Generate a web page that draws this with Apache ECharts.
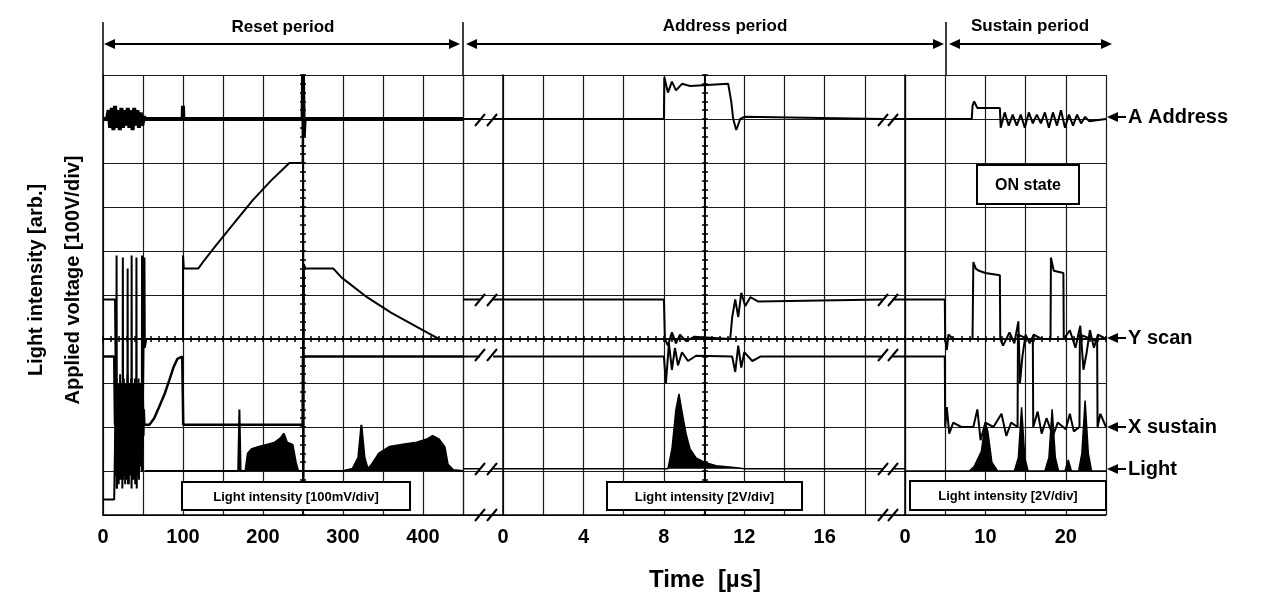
<!DOCTYPE html>
<html>
<head>
<meta charset="utf-8">
<script src="https://cdn.jsdelivr.net/npm/echarts@6/dist/echarts.min.js"></script>
<style>
  html, body { margin: 0; background: #fff; }
  #chart { width: 1269px; height: 609px; }
</style>
</head>
<body>
<div id="chart"></div>
<script>
// tick labels shown under each period
const resetTicks = [0, 100, 200, 300, 400];
const addressTicks = [0, 4, 8, 12, 16];
const sustainTicks = [0, 10, 20];

// traces: [time in us, level in screen divisions (0 = bottom, 10 = top)]
// reset period
const resetA = [[0,9],[5,9],[7,9.2],[9,8.8],[11,9.25],[13,8.75],[15,9.3],[17,8.8],[19,9.2],[21,8.75],[23,9.25],[25,8.8],[27,9.2],[29,8.85],[31,9.25],[33,8.8],[35,9.2],[37,8.75],[39,9.25],[41,8.85],[43,9.2],[45,8.8],[47,9.15],[49,8.85],[51,9.05],[53,9],[99.5,9],[100,9.3],[100.5,9],[249.5,9],[250,10],[251,8.6],[252,9],[450,9]];
const resetY = [[0,4.9],[15,4.9],[16.5,2],[17,5.9],[17.4,0.6],[17.8,2],[24.5,2],[24.8,5.85],[25.2,0.8],[25.6,2],[30.5,2],[30.8,5.6],[31.2,0.7],[31.6,2],[35.5,2],[35.8,5.9],[36.2,0.9],[36.6,2],[41.5,2],[41.8,5.85],[42.2,0.6],[42.6,2],[48.5,2],[48.8,5.9],[49.2,1.0],[49.6,2],[51.5,2],[51.8,5.85],[52.3,3.8],[54,4.0],[100,4.0],[100,5.9],[101,5.6],[119,5.6],[125,5.75],[140,6.1],[160,6.55],[187,7.15],[210,7.6],[233,8.0],[249.5,8.0],[250,10],[250.6,0.2],[251.2,5.7],[253,5.6],[288,5.6],[298,5.4],[330,4.95],[360,4.6],[390,4.3],[410,4.1],[420,4.0],[450,4.0]];
const resetX = [[0,3.6],[14,3.6],[15,2.05],[58,2.05],[64,2.2],[70,2.45],[77,2.75],[83,3.07],[88,3.35],[93,3.55],[99,3.6],[100,3.6],[100.3,2.05],[249.5,2.05],[250,3.6],[450,3.6]];
const resetBurst = [[0,0.35],[14,0.35],[15,1.6],[15.6,2.9],[16.2,0.9],[16.8,3.1],[17.3,0.6],[17.9,2.7],[18.5,1.2],[19.1,3.0],[19.6,0.7],[20.2,2.8],[20.8,1.0],[21.4,3.2],[21.9,0.8],[22.5,2.6],[23.1,1.3],[23.7,3.0],[24.2,0.6],[24.8,2.9],[25.4,1.1],[26,3.1],[26.5,0.9],[27.1,2.7],[27.7,0.7],[28.3,3.0],[28.8,1.2],[29.4,2.8],[30,0.8],[30.6,3.2],[31.1,1.0],[31.7,2.6],[32.3,0.7],[32.9,3.0],[33.4,1.3],[34,2.9],[34.6,0.9],[35.2,3.1],[35.7,0.6],[36.3,2.8],[36.9,1.1],[37.5,3.0],[38,0.8],[38.6,2.7],[39.2,1.2],[39.8,3.1],[40.3,0.7],[40.9,2.9],[41.5,1.0],[42.1,3.0],[42.6,0.9],[43.2,2.8],[43.8,1.3],[44.4,3.1],[44.9,0.8],[45.5,2.6],[46.1,1.1],[46.7,3.0],[47.2,1.4],[47.8,2.8],[48.4,1.0],[49,2.9],[49.5,1.5],[50.1,2.6],[50.7,1.8],[51.3,2.4],[52,2.05]];
const resetLight = [[52,1.0],[169,1.0],[170.5,2.4],[172,1.0],[178,1.0],[181,1.4],[186,1.5],[195,1.55],[205,1.6],[215,1.65],[222,1.75],[226,1.85],[230,1.65],[237,1.6],[241,1.2],[244,1.0],[250,1.0],[300,1.0],[312,1.05],[319,1.3],[323,2.05],[327,1.3],[331,1.05],[336,1.15],[345,1.4],[358,1.55],[375,1.6],[392,1.65],[405,1.72],[412,1.8],[420,1.72],[427,1.55],[431,1.15],[438,1.02],[450,1.0]];

// address period ('-' leaves the gap at the break marks)
const addrA = [[-2,9],[-1.15,9],[-1.1,'-'],[-0.5,9],[8,9],[8.02,9.95],[8.2,9.6],[8.4,9.85],[8.6,9.65],[8.9,9.8],[9.3,9.75],[11.2,9.8],[11.35,9.4],[11.45,9.0],[11.6,8.75],[11.8,9.0],[12,9.05],[18.9,9],[19,'-'],[19.37,9],[20,9]];
const addrY = [[-2,4.9],[-1.15,4.9],[-1.1,'-'],[-0.5,4.9],[8,4.9],[8.05,4.0],[8.2,3.85],[8.4,4.15],[8.6,3.9],[8.8,4.1],[9.1,3.95],[9.5,4.05],[11.3,4.0],[11.4,4.5],[11.55,4.9],[11.7,4.5],[11.85,5.05],[12.05,4.75],[12.3,4.95],[12.7,4.85],[18.9,4.9],[19,'-'],[19.37,4.9],[20,4.9]];
const addrX = [[-2,3.6],[-1.15,3.6],[-1.1,'-'],[-0.5,3.6],[8,3.6],[8.1,3.0],[8.25,3.9],[8.4,3.3],[8.55,3.8],[8.7,3.4],[8.9,3.7],[9.2,3.5],[9.6,3.62],[11.4,3.6],[11.55,3.25],[11.7,3.85],[11.85,3.35],[12,3.7],[12.4,3.5],[12.8,3.6],[18.9,3.6],[19,'-'],[19.37,3.6],[20,3.6]];
const addrLight = [[-2,1.05],[-1.15,1.05],[-1.1,'-'],[-0.5,1.05],[8.2,1.05],[8.4,1.5],[8.6,2.4],[8.75,2.75],[8.9,2.35],[9.1,1.85],[9.3,1.5],[9.6,1.3],[10,1.2],[10.6,1.12],[11.5,1.08],[12,1.05],[18.9,1.05],[19,'-'],[19.37,1.05],[20,1.05]];

// sustain period
const susA = [[0,9],[8.3,9],[8.4,9.3],[8.6,9.4],[9,9.25],[11.8,9.25],[11.9,8.8],[12.4,9.15],[12.9,8.85],[13.4,9.1],[13.9,8.85],[14.4,9.1],[14.9,8.8],[15.4,9.15],[15.9,8.9],[16.4,9.1],[16.9,8.9],[17.4,9.15],[17.9,8.8],[18.4,9.15],[18.9,8.85],[19.4,9.2],[19.9,8.8],[20.4,9.1],[20.9,8.85],[21.4,9.1],[21.9,8.9],[22.4,9.05],[22.9,8.95],[25,9]];
const susY = [[0,4.9],[4.95,4.9],[5,4.0],[5.2,3.75],[5.4,4.1],[6,4.0],[8.4,4.0],[8.5,5.75],[8.8,5.6],[9.2,5.55],[10,5.5],[11.8,5.45],[11.85,4.0],[12.2,3.85],[13,4.15],[13.6,3.9],[14.1,4.4],[14.3,3.0],[14.6,3.6],[15,4.1],[15.5,3.9],[16,4.1],[17,4.0],[18.1,4.0],[18.15,5.85],[18.5,5.55],[19.7,5.5],[19.75,4.0],[20.5,4.2],[21.2,3.8],[21.8,4.3],[22.2,3.3],[22.6,3.7],[23,4.2],[23.5,3.8],[24,4.1],[25,4.0]];
const susX = [[0,3.6],[4.95,3.6],[5,2.0],[5.2,2.45],[5.5,1.85],[6,2.1],[7,2.0],[8.5,2.0],[9,2.4],[9.4,1.7],[10,2.1],[11,2.0],[12,2.3],[12.6,1.8],[13.2,2.1],[14,2.0],[14.05,4.1],[15.9,3.95],[15.95,2.0],[16.5,2.35],[17,1.85],[17.6,2.2],[18.4,1.8],[19,2.1],[20,1.95],[20.5,2.3],[21,1.9],[21.7,2.0],[21.75,4.1],[23.9,3.95],[23.95,2.0],[24.3,2.3],[25,2.0]];
const susLight = [[0,1.0],[8,1.0],[8.6,1.1],[9.5,1.45],[10,2.1],[10.3,1.9],[10.8,1.2],[11.5,1.0],[13.6,1.0],[14.1,1.3],[14.5,2.45],[14.9,1.3],[15.3,1.0],[17.4,1.0],[17.9,1.3],[18.3,2.4],[18.7,1.3],[19.1,1.0],[19.9,1.0],[20.3,1.25],[20.7,1.0],[21.6,1.0],[22.0,1.4],[22.4,2.6],[22.8,1.4],[23.2,1.0],[25,1.0]];

const ink = '#000';
const fontFamily = '"Liberation Sans", Arial, sans-serif';

const myChart = echarts.init(document.getElementById('chart'));

const grids = [
  { left: 103, top: 75, width: 360, height: 440 },
  { left: 463, top: 75, width: 442, height: 440 },
  { left: 905, top: 75, width: 201, height: 440 },
];

function timeAxis(gi, min, max, step, ticks) {
  return {
    type: 'value', gridIndex: gi, min: min, max: max, interval: step,
    axisLine: { show: true, lineStyle: { color: ink, width: 1.5 } },
    axisTick: { show: false },
    splitLine: { show: true, lineStyle: { color: '#1a1a1a', width: 1.2 } },
    axisLabel: {
      margin: 12, color: ink, fontSize: 20, fontWeight: 'bold', fontFamily: fontFamily,
      showMinLabel: true, showMaxLabel: true,
      formatter: (v) => (ticks.indexOf(v) >= 0 ? String(v) : ''),
    },
  };
}

function levelAxis(gi) {
  return {
    type: 'value', gridIndex: gi, min: 0, max: 10, interval: 1,
    axisLine: { show: true, lineStyle: { color: ink, width: 1.5 } },
    axisTick: { show: false },
    axisLabel: { show: false },
    splitLine: { show: true, lineStyle: { color: '#1a1a1a', width: 1.2 } },
  };
}

// oscilloscope centre graticule: an axis line with small ticks on both sides
function centreAxis(kind, gi, min, max, step, offset, inside) {
  return {
    type: 'value', gridIndex: gi, min: min, max: max, interval: step,
    position: kind === 'x' ? 'bottom' : 'left', offset: offset,
    axisLine: { show: true, onZero: false, lineStyle: { color: ink, width: 1.5 } },
    axisTick: { show: true, inside: inside, length: 3, lineStyle: { color: ink, width: 1.5 } },
    axisLabel: { show: false },
    splitLine: { show: false },
  };
}

function trace(data, gi, width, fillTo) {
  const s = {
    type: 'line', xAxisIndex: gi, yAxisIndex: gi, data: data,
    symbol: 'none', silent: true, animation: false, connectNulls: false,
    lineStyle: { color: ink, width: width || 2 },
  };
  if (fillTo !== undefined) {
    s.areaStyle = { color: ink, opacity: 1, origin: fillTo };
  }
  return s;
}

// graphic helpers for the annotations
function label(x, y, text, size, align, extra) {
  return Object.assign({
    type: 'text', x: x, y: y, z: 120,
    style: {
      text: text, fill: ink, font: 'bold ' + size + 'px ' + fontFamily,
      align: align || 'center', verticalAlign: 'middle',
      textAlign: align || 'center', textVerticalAlign: 'middle',
    },
  }, extra || {});
}
function seg(x1, y1, x2, y2, w) {
  return { type: 'line', z: 110, shape: { x1: x1, y1: y1, x2: x2, y2: y2 }, style: { stroke: ink, lineWidth: w || 2 } };
}
function head(x, y, dir) {
  return { type: 'polygon', z: 110, shape: { points: [[x, y], [x - dir * 11, y - 5], [x - dir * 11, y + 5]] }, style: { fill: ink } };
}
function box(x, y, w, h, text, size) {
  return [
    { type: 'rect', z: 115, shape: { x: x, y: y, width: w, height: h }, style: { fill: '#fff', stroke: ink, lineWidth: 2 } },
    label(x + w / 2, y + h / 2 + 1, text, size),
  ];
}

const graphics = [
  // period headers
  label(283, 27, 'Reset period', 17),
  label(725, 26, 'Address period', 17),
  label(1030, 26, 'Sustain period', 17),
  seg(103, 22, 103, 75, 1.5), seg(463, 22, 463, 75, 1.5), seg(946, 22, 946, 75, 1.5),
  seg(106, 44, 458, 44), head(104, 44, -1), head(460, 44, 1),
  seg(468, 44, 942, 44), head(466, 44, -1), head(944, 44, 1),
  seg(951, 44, 1110, 44), head(949, 44, -1), head(1112, 44, 1),
  // trace names on the right
  seg(1110, 117, 1126, 117), head(1107, 117, -1), label(1128, 117, 'A Address', 20, 'left'),
  seg(1110, 338, 1126, 338), head(1107, 338, -1), label(1128, 338, 'Y scan', 20, 'left'),
  seg(1110, 427, 1126, 427), head(1107, 427, -1), label(1128, 427, 'X sustain', 20, 'left'),
  seg(1110, 469, 1126, 469), head(1107, 469, -1), label(1128, 469, 'Light', 20, 'left'),
  // axis titles
  label(36, 280, 'Light intensity [arb.]', 20, 'center', { rotation: Math.PI / 2 }),
  label(73, 280, 'Applied voltage [100V/div]', 20, 'center', { rotation: Math.PI / 2 }),
  label(705, 580, 'Time  [µs]', 24),
].concat(
  box(977, 165, 102, 39, 'ON state', 16),
  box(182, 482, 228, 28, 'Light intensity [100mV/div]', 13),
  box(607, 482, 195, 28, 'Light intensity [2V/div]', 13),
  box(910, 481, 196, 29, 'Light intensity [2V/div]', 13)
);

// "//" break marks between the periods
[480, 492, 883, 893].forEach(function (bx) {
  [120, 300, 355, 469, 515].forEach(function (by) {
    graphics.push(seg(bx - 5, by + 6, bx + 5, by - 6, 2));
  });
});

myChart.setOption({
  animation: false,
  backgroundColor: '#fff',
  grid: grids,
  xAxis: [
    timeAxis(0, 0, 450, 50, resetTicks),
    timeAxis(1, -2, 20, 2, addressTicks),
    timeAxis(2, 0, 25, 5, sustainTicks),
    // horizontal centre line (4 div from the bottom)
    centreAxis('x', 0, 0, 450, 10, -176, false),
    centreAxis('x', 0, 0, 450, 10, -176, true),
    centreAxis('x', 1, -2, 20, 0.4, -176, false),
    centreAxis('x', 1, -2, 20, 0.4, -176, true),
    centreAxis('x', 2, 0, 25, 1, -176, false),
    centreAxis('x', 2, 0, 25, 1, -176, true),
  ],
  yAxis: [
    levelAxis(0), levelAxis(1), levelAxis(2),
    // vertical centre lines at 250 us (reset) and 10 us (address)
    centreAxis('y', 0, 0, 10, 0.2, -200, false),
    centreAxis('y', 0, 0, 10, 0.2, -200, true),
    centreAxis('y', 1, 0, 10, 0.2, -242, false),
    centreAxis('y', 1, 0, 10, 0.2, -242, true),
  ],
  series: [
    trace(resetA, 0, 4),
    trace(resetY, 0, 2),
    trace(resetX, 0, 2.5),
    trace(resetBurst, 0, 2),
    trace(resetLight, 0, 2, 1.0),
    trace(addrA, 1, 2),
    trace(addrY, 1, 2),
    trace(addrX, 1, 2),
    trace(addrLight, 1, 1.5, 1.05),
    trace(susA, 2, 2),
    trace(susY, 2, 2),
    trace(susX, 2, 2),
    trace(susLight, 2, 1.5, 1.0),
  ],
  graphic: graphics,
});
</script>
</body>
</html>
